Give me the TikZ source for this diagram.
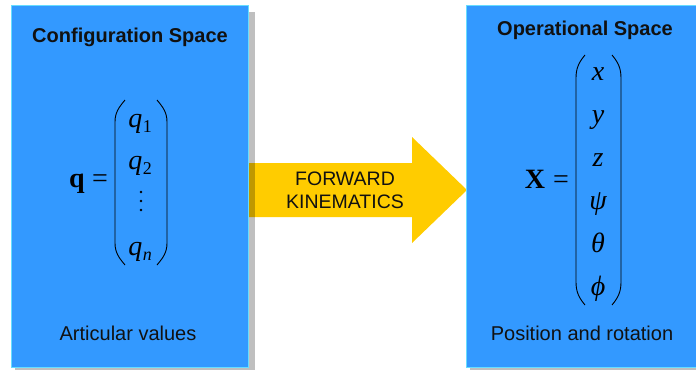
\documentclass[tikz,border=0pt]{standalone}
\usepackage{fontspec}
\setmainfont{Liberation Sans}
\newfontfamily\mathser{Liberation Serif}
\definecolor{panelblue}{HTML}{3399FF}
\definecolor{paneledge}{HTML}{66DDFF}
\definecolor{arrowgold}{HTML}{FFCC00}
\definecolor{inktext}{HTML}{111111}
\newcommand{\sub}[1]{\kern0.5pt{\upshape\fontsize{18}{18}\selectfont\raisebox{-5pt}{#1}}}
\begin{document}
\begin{tikzpicture}[x=1pt,y=-1pt,
  panel/.style={fill=panelblue,draw=paneledge,line width=1pt},
  shadowbox/.style={fill=black,fill opacity=0.25,draw=none},
  heading/.style={font=\fontsize{20}{20}\selectfont\bfseries,text=inktext,anchor=base,inner sep=0pt},
  caption/.style={font=\fontsize{20}{20}\selectfont,text=inktext,anchor=base,inner sep=0pt},
  arrowlabel/.style={font=\fontsize{19.5}{19.5}\selectfont,text=inktext,anchor=base,inner sep=0pt},
  entry/.style={font=\fontsize{28}{28}\mathser\itshape,anchor=base,inner sep=0pt},
  vecname/.style={font=\fontsize{28}{28}\mathser\bfseries,anchor=base,inner sep=0pt},
  eqsign/.style={font=\fontsize{28}{28}\mathser,anchor=base,inner sep=0pt},
  vdot/.style={circle,fill=black,inner sep=0pt,minimum size=2.6pt},
  paren/.style={line width=0.9pt,draw=black}]
\useasboundingbox (0,0) rectangle (696,370);
\fill[white] (0,0) rectangle (696,370);

% transition arrow
\fill[arrowgold] (240,163) -- (412,163) -- (412,137) -- (467,190)
  -- (412,243) -- (412,217) -- (240,217) -- cycle;
\node[arrowlabel] (fw) at (345,185) {FORWARD};
\node[arrowlabel] (kin) at (345,208) {KINEMATICS};

% drop shadows
\fill[shadowbox] (15,12) rectangle (255,370);
\fill[shadowbox] (470,12) rectangle (696,370);

% panels
\draw[panel] (11,5) rectangle (248,367);
\draw[panel] (466,5) rectangle (697,367);

% configuration space
\node[heading] (cfgtitle) at (130,42) {Configuration Space};
\node[vecname] (qvec) at (77,187) {q};
\node[eqsign] (qeq) at (100,187) {=};
\node[entry] (q1) at (140,127) {q\sub{1}};
\node[entry] (q2) at (140,169) {q\sub{2}};
\node[vdot] (d1) at (141,192) {};
\node[vdot] (d2) at (141,201) {};
\node[vdot] (d3) at (141,210) {};
\node[entry] (qn) at (140,255) {q\sub{\itshape n}};
\draw[paren] (125,100) to[out=230,in=90] (115,122) -- (115,243) to[out=-90,in=130] (125,265);
\draw[paren] (157,100) to[out=-50,in=90] (167,122) -- (167,243) to[out=-90,in=50] (157,265);
\node[caption] (cfgcap) at (128,340) {Articular values};

% operational space
\node[heading] (optitle) at (585,35) {Operational Space};
\node[vecname] (xvec) at (535,188) {X};
\node[eqsign] (xeq) at (561,188) {=};
\node[entry] (ex) at (598,80) {x};
\node[entry] (ey) at (598,123) {y};
\node[entry] (ez) at (598,166) {z};
\node[entry] (epsi) at (598,209) {ψ};
\node[entry] (etheta) at (598,252) {θ};
\node[entry] (ephi) at (598,295) {ϕ};
\draw[paren] (585,55) to[out=230,in=90] (576,78) -- (576,282) to[out=-90,in=130] (585,305);
\draw[paren] (612,55) to[out=-50,in=90] (621,78) -- (621,282) to[out=-90,in=50] (612,305);
\node[caption] (opcap) at (582,340) {Position and rotation};
\end{tikzpicture}
\end{document}
